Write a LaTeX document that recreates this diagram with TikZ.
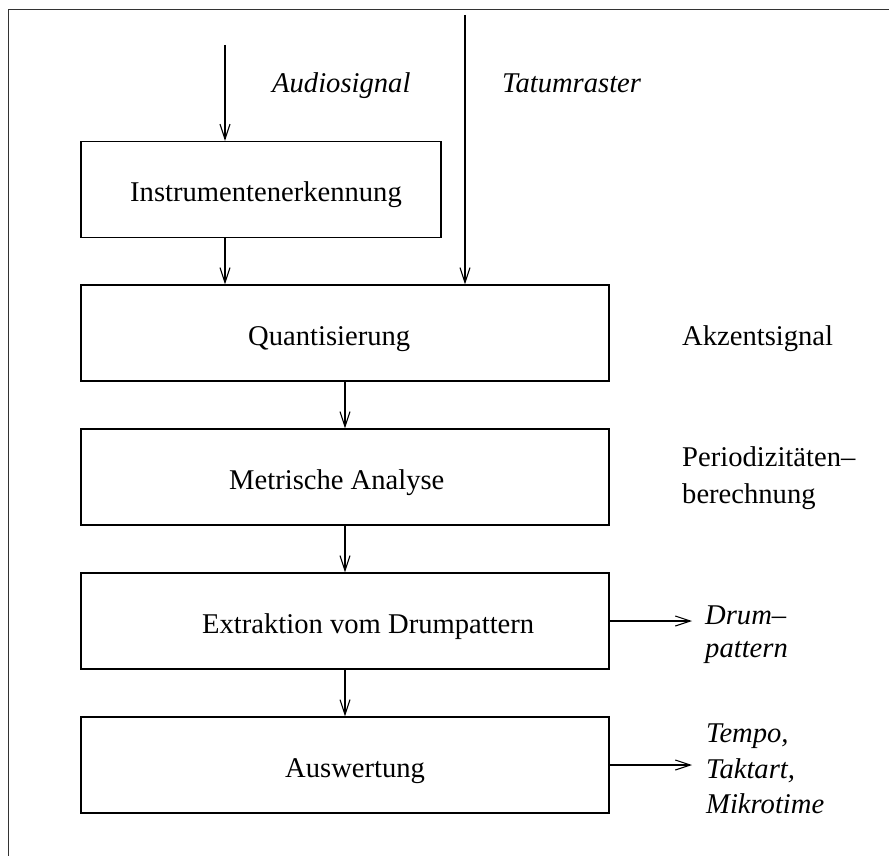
\documentclass[tikz,border=0pt]{standalone}
\usepackage{fontspec}
\setmainfont{Liberation Serif}
\usetikzlibrary{arrows.meta}
\begin{document}
\begin{tikzpicture}[x=1pt,y=-1pt,
  txt/.style={font=\fontsize{28.6}{34}\selectfont, inner sep=0pt, anchor=base west},
  itxt/.style={txt, font=\fontsize{28.6}{34}\selectfont\itshape},
  blk/.style={draw, line width=1.2pt, minimum height=96pt, inner sep=0pt},
  arr/.style={line width=1.1pt, -{Straight Barb[length=15pt,width=10pt,line width=1.1pt]}},
  frame/.style={draw=black!80, line width=1.6pt}]
\useasboundingbox (0,0) rectangle (889,856);
\draw[frame] (8.5,870) -- (8.5,9.5) -- (900,9.5);

% boxes
\node[blk, minimum width=360pt] (b1) at (261,189.5) {};
\node[blk, minimum width=528pt] (b2) at (345,333) {};
\node[blk, minimum width=528pt] (b3) at (345,477) {};
\node[blk, minimum width=528pt] (b4) at (345,621) {};
\node[blk, minimum width=528pt] (b5) at (345,765) {};

% box texts
\node[txt] (t1) at (130,201.5) {Instrumentenerkennung};
\node[txt] (t2) at (248,345) {Quantisierung};
\node[txt] (t3) at (229,489) {Metrische Analyse};
\node[txt] (t4) at (202,633.5) {Extraktion vom Drumpattern};
\node[txt] (t5) at (285,777.5) {Auswertung};

% side labels
\node[itxt] (la) at (272,93) {Audiosignal};
\node[itxt] (lt) at (502,93) {Tatumraster};
\node[txt] (lak) at (682,345) {Akzentsignal};
\node[txt] (lp1) at (682,466) {Periodizitäten–};
\node[txt] (lp2) at (682,503) {berechnung};
\node[itxt] (ld1) at (705,624) {Drum–};
\node[itxt] (ld2) at (705,657) {pattern};
\node[itxt] (lm1) at (706,742) {Tempo,};
\node[itxt] (lm2) at (706,778) {Taktart,};
\node[itxt] (lm3) at (706,813) {Mikrotime};

% connector ends
\coordinate (ain) at (225,45);
\coordinate (tin) at (465,15);
\coordinate (dout) at (692,621);
\coordinate (mout) at (692,765);

% connectors
\draw[arr] (ain) -- (ain |- b1.north);
\draw[arr] (b1.south -| ain) -- (b2.north -| ain);
\draw[arr] (tin) -- (tin |- b2.north);
\draw[arr] (b2.south) -- (b3.north);
\draw[arr] (b3.south) -- (b4.north);
\draw[arr] (b4.south) -- (b5.north);
\draw[arr] (b4.east) -- (dout);
\draw[arr] (b5.east) -- (mout);
\end{tikzpicture}
\end{document}
